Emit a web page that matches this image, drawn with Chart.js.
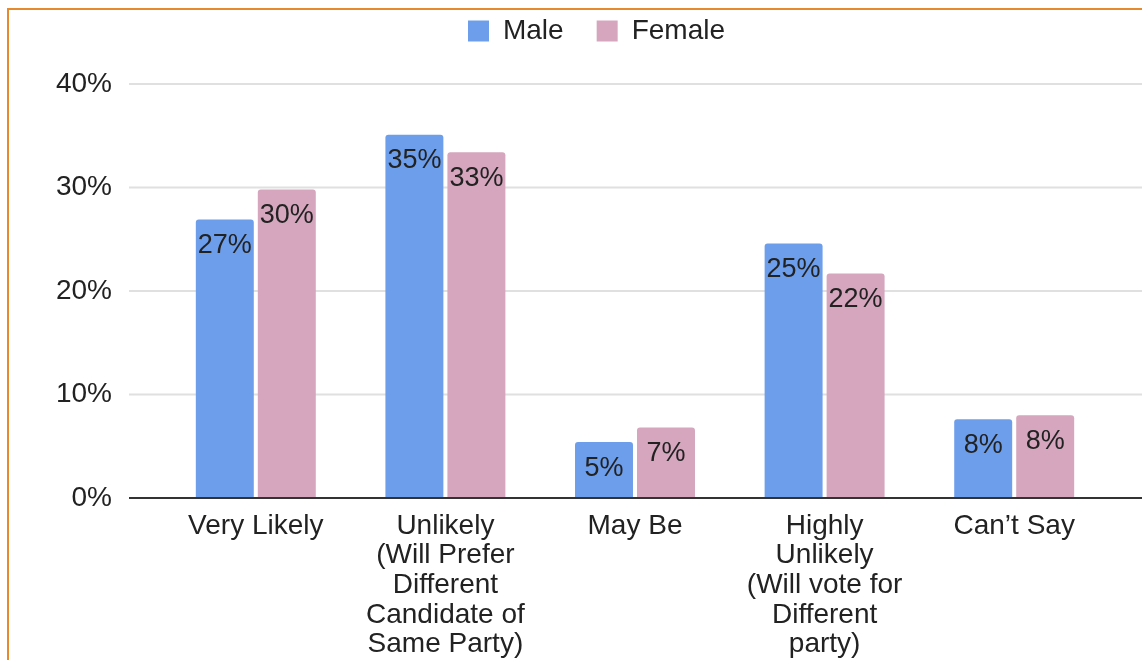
<!DOCTYPE html>
<html>
<head>
<meta charset="utf-8">
<script src="https://cdn.jsdelivr.net/npm/chart.js@4.4.1/dist/chart.umd.min.js"></script>
<style>
    html, body { margin: 0; padding: 0; background: #fff; }
    #wrap { position: relative; width: 1142px; height: 660px; overflow: hidden; }
    #frame {
        position: absolute; left: 7px; top: 8px; right: -4px; bottom: -4px;
        border-left: 2px solid #e68a2e; border-top: 2px solid #e68a2e;
        pointer-events: none;
    }
</style>
</head>
<body>
<div id="wrap">
    <canvas id="chart" width="1142" height="660"></canvas>
    <div id="frame"></div>
</div>
<script>
const categories = [
    'Very Likely',
    ['Unlikely', '(Will Prefer', 'Different', 'Candidate of', 'Same Party)'],
    'May Be',
    ['Highly', 'Unlikely', '(Will vote for', 'Different', 'party)'],
    'Can’t Say',
];
const seriesNames = ['Male', 'Female'];
const maleValues = [26.9, 35.1, 5.4, 24.6, 7.6];
const femaleValues = [29.8, 33.4, 6.8, 21.7, 8.0];
const yTickStep = 10;
const yMax = 40;

const FONT = 'Liberation Sans, Arial, Helvetica, sans-serif';
const TEXT = '#222';

// horizontal grid lines, running past the plot area like the Sheets chart
const sheetGrid = {
    id: 'sheetGrid',
    beforeDatasetsDraw(chart) {
        const { ctx, chartArea, scales } = chart;
        ctx.save();
        ctx.lineWidth = 2;
        ctx.strokeStyle = '#e0e0e0';
        scales.y.ticks.forEach((tick) => {
            if (tick.value === 0) return;
            const y = scales.y.getPixelForValue(tick.value);
            ctx.beginPath();
            ctx.moveTo(chartArea.left - 32, y);
            ctx.lineTo(chart.width, y);
            ctx.stroke();
        });
        ctx.restore();
    },
    afterDatasetsDraw(chart) {
        const { ctx, chartArea, scales } = chart;
        const y = scales.y.getPixelForValue(0);
        ctx.save();
        ctx.strokeStyle = '#333';
        ctx.lineWidth = 2;
        ctx.beginPath();
        ctx.moveTo(chartArea.left - 32, y);
        ctx.lineTo(chart.width, y);
        ctx.stroke();
        ctx.restore();
    },
};

// value labels just inside the top of each bar
const barLabels = {
    id: 'barLabels',
    afterDatasetsDraw(chart) {
        const { ctx } = chart;
        ctx.save();
        ctx.font = '27px ' + FONT;
        ctx.fillStyle = TEXT;
        ctx.textAlign = 'center';
        ctx.textBaseline = 'middle';
        chart.data.datasets.forEach((ds, i) => {
            chart.getDatasetMeta(i).data.forEach((bar, j) => {
                ctx.fillText(Math.round(ds.data[j]) + '%', bar.x, bar.y + 26);
            });
        });
        ctx.restore();
    },
};

// room under the legend, and legend nudged right to sit over the plot
const legendGap = {
    id: 'legendGap',
    beforeInit(chart) {
        const fit = chart.legend.fit;
        chart.legend.fit = function () {
            fit.bind(chart.legend)();
            this.height += 29;
        };
    },
    afterLayout(chart) {
        chart.legend.left += 42;
        chart.legend.right += 42;
    },
};

new Chart(document.getElementById('chart').getContext('2d'), {
    type: 'bar',
    data: {
        labels: categories,
        datasets: [
            {
                label: seriesNames[0],
                data: maleValues,
                backgroundColor: '#6d9eeb',
                borderRadius: 3,
                categoryPercentage: 0.654,
                barPercentage: 0.935,
            },
            {
                label: seriesNames[1],
                data: femaleValues,
                backgroundColor: '#d5a6bd',
                borderRadius: 3,
                categoryPercentage: 0.654,
                barPercentage: 0.935,
            },
        ],
    },
    options: {
        responsive: false,
        animation: false,
        layout: { padding: { top: -16, left: 0, right: 33, bottom: 0 } },
        plugins: {
            legend: {
                position: 'top',
                labels: {
                    font: { family: FONT, size: 28 },
                    color: TEXT,
                    boxWidth: 21,
                    boxHeight: 21,
                    padding: 33,
                },
            },
            tooltip: { enabled: false },
        },
        scales: {
            x: {
                grid: { display: false, drawTicks: false },
                border: { display: false },
                ticks: {
                    font: { family: FONT, size: 28, lineHeight: 1.06 },
                    color: TEXT,
                    padding: 13,
                    maxRotation: 0,
                    autoSkip: false,
                },
                afterFit(scale) { scale.height = 162; },
            },
            y: {
                min: 0,
                max: yMax,
                grid: { display: false, drawTicks: false },
                border: { display: false },
                ticks: {
                    stepSize: yTickStep,
                    font: { family: FONT, size: 28 },
                    color: TEXT,
                    padding: 49,
                    callback: (v) => v + '%',
                },
                afterFit(scale) { scale.width = 161; },
            },
        },
    },
    plugins: [sheetGrid, barLabels, legendGap],
});
</script>
</body>
</html>
